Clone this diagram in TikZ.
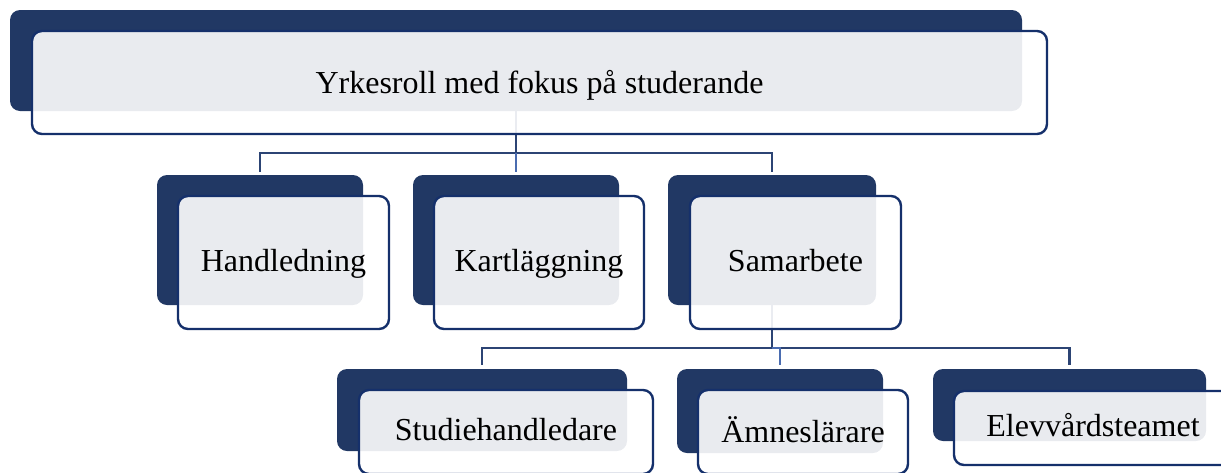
\documentclass[tikz,border=0pt]{standalone}
\usepackage{fontspec}
\setmainfont{Liberation Serif}
\usetikzlibrary{backgrounds}
\definecolor{navy}{HTML}{213864}
\definecolor{bordernavy}{HTML}{15306B}
\definecolor{connnavy}{HTML}{2C4474}
\definecolor{connblue}{HTML}{4A6CB0}
\begin{document}
\begin{tikzpicture}[x=1pt,y=-1pt,
  darkbox/.style={rectangle, rounded corners=10pt, fill=navy, draw=none, inner sep=0pt, outer sep=0pt},
  frontbox/.style={rectangle, rounded corners=10pt, fill=white, fill opacity=0.9, text opacity=1,
     draw=bordernavy, draw opacity=1, line width=2.4pt, inner sep=0pt, outer sep=0pt,
     font=\fontsize{32}{38}\selectfont, text height=22pt, text depth=5pt},
  conn/.style={draw=connnavy, line width=2.4pt},
  connlight/.style={draw=connblue, line width=2.4pt}]
\useasboundingbox (0,0) rectangle (1221,472);
% dark back boxes
\node[darkbox, minimum width=1012pt, minimum height=101pt] (d0) at (516,60.5) {};
\node[darkbox, minimum width=206pt, minimum height=130pt] (d1) at (260,240) {};
\node[darkbox, minimum width=206pt, minimum height=130pt] (d2) at (516,240) {};
\node[darkbox, minimum width=208pt, minimum height=130pt] (d3) at (772,240) {};
\node[darkbox, minimum width=290pt, minimum height=82pt] (d4) at (482,410) {};
\node[darkbox, minimum width=206pt, minimum height=84pt] (d5) at (780,411) {};
\node[darkbox, minimum width=273pt, minimum height=72pt] (d6) at (1069.5,405) {};
% front boxes
\node[frontbox, minimum width=1015pt, minimum height=103pt, text height=24pt, text depth=3pt] (f0) at (539.5,82.5) {Yrkesroll med fokus på studerande};
\node[frontbox, minimum width=211pt, minimum height=133pt] (f1) at (283.5,262.5) {Handledning};
\node[frontbox, minimum width=210pt, minimum height=133pt] (f2) at (539,262.5) {Kartläggning};
\node[frontbox, minimum width=211pt, minimum height=133pt] (f3) at (795.5,262.5) {Samarbete};
\node[frontbox, minimum width=294pt, minimum height=84pt] (f4) at (506,432) {Studiehandledare};
\node[frontbox, minimum width=210pt, minimum height=84pt, text height=24pt, text depth=3pt] (f5) at (803,432) {Ämneslärare};
\node[frontbox, minimum width=278pt, minimum height=74pt] (f6) at (1093,428) {Elevvårdsteamet};
% connectors
\begin{scope}[on background layer]
\coordinate (b1) at (516,153);
\coordinate (b2) at (772,348);
\draw[conn] (d0.south) -- (b1);
\draw[conn, shorten >=3pt] (b1) -| (d1.north);
\draw[conn, shorten >=3pt] (b1) -| (d3.north);
\draw[connlight, shorten >=3pt] (b1) -- (d2.north);
\draw[conn] (d3.south) -- (b2);
\draw[conn, shorten >=4pt] (b2) -| (d4.north);
\draw[conn, shorten >=4pt] (b2) -| (d6.north);
\draw[connlight, shorten >=4pt] (b2) -| (d5.north);
\end{scope}
\end{tikzpicture}
\end{document}
